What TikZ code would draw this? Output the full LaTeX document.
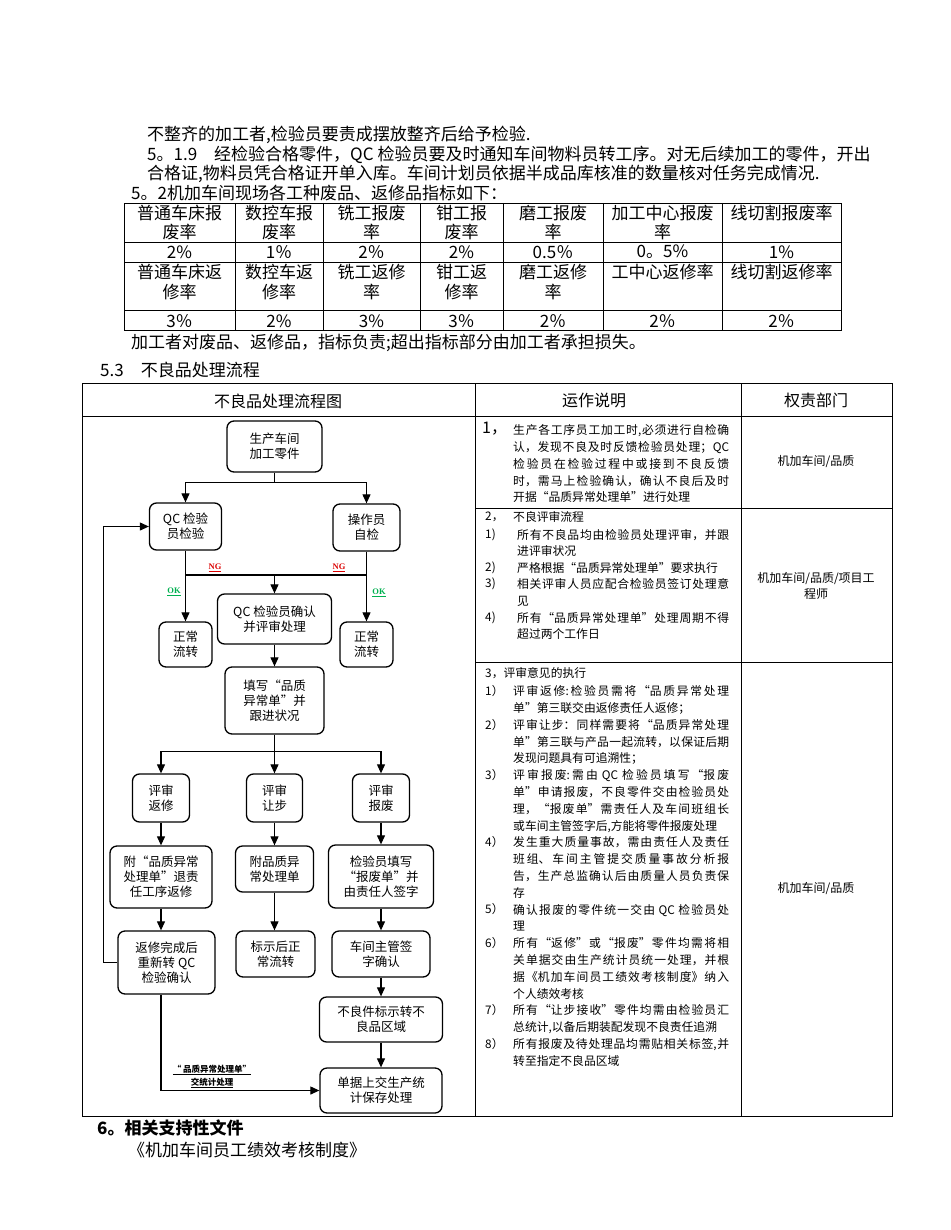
\documentclass[tikz,border=0pt]{standalone}
\usepackage{fontspec}
\setmainfont{Noto Sans CJK SC}
\newfontfamily\latinserif{Liberation Serif}
\usetikzlibrary{arrows.meta}
\XeTeXlinebreaklocale "zh"
\XeTeXlinebreakskip=0pt plus 2pt
\definecolor{okgreen}{RGB}{0,176,80}
\definecolor{ngred}{RGB}{220,0,0}
\begin{document}
\begin{tikzpicture}[x=1pt,y=-1pt,
  box/.style={draw, line width=1.3pt, rounded corners=7pt, align=center, inner sep=0pt, font=\fontsize{12.5}{15}\selectfont},
  arr/.style={line width=1.1pt, -{Triangle[length=9pt,width=8pt]}},
  ln/.style={line width=1.1pt},
  tl/.style={line width=0.8pt},
  body/.style={anchor=west, inner sep=0pt, font=\fontsize{17}{20}\selectfont},
  cell/.style={inner sep=0pt, font=\fontsize{17}{20}\selectfont},
  hdr/.style={inner sep=0pt, font=\fontsize{16}{18}\selectfont},
  num/.style={anchor=west, inner sep=0pt, font=\fontsize{11.8}{14}\selectfont},
  para/.style={anchor=base west, inner sep=0pt},
  dept/.style={inner sep=0pt, align=center, font=\fontsize{12}{16}\selectfont},
  oklab/.style={inner sep=0pt, text=okgreen, font=\latinserif\bfseries\fontsize{8.5}{10}\selectfont},
  nglab/.style={inner sep=0pt, text=ngred, font=\latinserif\bfseries\fontsize{8.5}{10}\selectfont}
]
\useasboundingbox[fill=white] (0,0) rectangle (950,1230);

% ---------- top text ----------
\node[body] (t1) at (147,135) {不整齐的加工者,检验员要责成摆放整齐后给予检验.};
\node[body] (t2) at (147,155) {5。1.9\quad 经检验合格零件，QC 检验员要及时通知车间物料员转工序。对无后续加工的零件，开出};
\node[body] (t3) at (147,174) {合格证,物料员凭合格证开单入库。车间计划员依据半成品库核准的数量核对任务完成情况.};
\node[body] (t4) at (131,193) {5。2机加车间现场各工种废品、返修品指标如下：};

% ---------- index table ----------
\draw[tl] (124,203) rectangle (841,330);
\foreach \y in {242,262,310} \draw[tl] (124,\y) -- (841,\y);
\foreach \x in {235,323,420,503,603,722} \draw[tl] (\x,203) -- (\x,330);
\foreach \cx/\a/\b [count=\i] in {179.5/普通车床报/废率, 279/数控车报/废率, 371.5/铣工报废/率, 461.5/钳工报/废率, 553/磨工报废/率, 662.5/加工中心报废/率}{
  \node[cell] (ha\i) at (\cx,213) {\a};
  \node[cell] (hb\i) at (\cx,232) {\b};
}
\node[cell] (ha7) at (781.5,213) {线切割报废率};
\foreach \cx/\v [count=\i] in {179.5/2\%, 279/1％, 371.5/2％, 461.5/2\%, 553/0.5％, 662.5/0。5\%, 781.5/1\%}{
  \node[cell] (va\i) at (\cx,252) {\v};
}
\foreach \cx/\a/\b [count=\i] in {179.5/普通车床返/修率, 279/数控车返/修率, 371.5/铣工返修/率, 461.5/钳工返/修率, 553/磨工返修/率}{
  \node[cell] (hc\i) at (\cx,272) {\a};
  \node[cell] (hd\i) at (\cx,292) {\b};
}
\node[cell] (hc6) at (662.5,272) {工中心返修率};
\node[cell] (hc7) at (781.5,272) {线切割返修率};
\foreach \cx/\v [count=\i] in {179.5/3％, 279/2\%, 371.5/3\%, 461.5/3％, 553/2％, 662.5/2％, 781.5/2％}{
  \node[cell] (vb\i) at (\cx,321) {\v};
}

\node[body] (t5) at (131,343) {加工者对废品、返修品，指标负责;超出指标部分由加工者承担损失。};
\node[body] (t6) at (100,370) {5.3\quad 不良品处理流程};

% ---------- process table ----------
\draw[tl] (82,383) rectangle (892,1116);
\draw[tl] (82,416) -- (892,416);
\draw[tl] (475,383) -- (475,1116);
\draw[tl] (741,383) -- (741,1116);
\draw[tl] (475,508) -- (892,508);
\draw[tl] (475,662) -- (892,662);
\node[hdr] (h1) at (278,401) {不良品处理流程图};
\node[hdr] (h2) at (594,400) {运作说明};
\node[hdr] (h3) at (816,400) {权责部门};

% ---------- flowchart ----------
\node[box, minimum width=95pt, minimum height=51pt] (n1) at (274.5,446.5) {生产车间\\加工零件};
\node[box, minimum width=72pt, minimum height=47pt] (qc) at (185.5,526.5) {QC 检验\\员检验};
\node[box, minimum width=67pt, minimum height=47pt] (op) at (366.5,527.5) {操作员\\自检};
\node[box, minimum width=53pt, minimum height=45pt] (ok1) at (185.5,644.5) {正常\\流转};
\node[box, minimum width=114pt, minimum height=50pt] (rev) at (274.5,619) {QC 检验员确认\\并评审处理};
\node[box, minimum width=53pt, minimum height=45pt] (ok2) at (366.5,644.5) {正常\\流转};
\node[box, minimum width=99pt, minimum height=67pt] (fill) at (274.5,700.5) {填写“品质\\异常单”并\\跟进状况};
\node[box, minimum width=57pt, minimum height=48pt] (r1) at (161,798) {评审\\返修};
\node[box, minimum width=56pt, minimum height=48pt] (r2) at (274.5,798) {评审\\让步};
\node[box, minimum width=57pt, minimum height=48pt] (r3) at (381,798) {评审\\报废};
\node[box, minimum width=102pt, minimum height=62pt] (a1) at (161,877) {附“品质异常\\处理单”退责\\任工序返修};
\node[box, minimum width=78pt, minimum height=46pt] (a2) at (274.5,869) {附品质异\\常处理单};
\node[box, minimum width=105pt, minimum height=63pt] (a3) at (381,876.5) {检验员填写\\“报废单”并\\由责任人签字};
\node[box, minimum width=97pt, minimum height=63pt] (b1) at (166.5,962.5) {返修完成后\\重新转 QC\\检验确认};
\node[box, minimum width=79pt, minimum height=46pt] (b2) at (275.5,954) {标示后正\\常流转};
\node[box, minimum width=98pt, minimum height=46pt] (b3) at (381,954) {车间主管签\\字确认};
\node[box, minimum width=123pt, minimum height=45pt] (c3) at (381,1019.5) {不良件标示转不\\良品区域};
\node[box, minimum width=122pt, minimum height=45pt] (d3) at (381,1090.5) {单据上交生产统\\计保存处理};

\coordinate (j1) at (274.5,482.7);
\draw[ln] (n1.south) -- (j1);
\draw[arr] (j1) -| (qc.north);
\draw[arr] (j1) -| (op.north);
\draw[arr] (qc.south) -- (ok1.north);
\draw[arr] (op.south) -- (ok2.north);
\coordinate (ng) at (274.5,575);
\draw[ln] (qc.south |- ng) -- (op.south |- ng);
\draw[arr] (ng) -- (rev.north);
\draw[arr] (rev.south) -- (fill.north);
\coordinate (j2) at (274.5,751.7);
\draw[ln] (fill.south) -- (j2);
\draw[arr] (j2) -| (r1.north);
\draw[arr] (j2) -- (r2.north);
\draw[arr] (j2) -| (r3.north);
\draw[arr] (r1.south) -- (a1.north);
\draw[arr] (r2.south) -- (a2.north);
\draw[arr] (r3.south) -- (a3.north);
\draw[arr] (a1.south) -- (a1.south |- b1.north);
\draw[arr] (a2.south) -- (a2.south |- b2.north);
\draw[arr] (a3.south) -- (b3.north);
\draw[arr] (b3.south) -- (c3.north);
\draw[arr] (c3.south) -- (d3.north);
\draw[arr] (b1.west) -- ++(-14,0) |- (qc.west);
\draw[arr] (a1.south |- b1.south) |- (d3.west);

\node[nglab] (ngl) at (215,568) {\underline{NG}};
\node[nglab] (ngr) at (339,568) {\underline{NG}};
\node[oklab] (okl) at (174,592) {\underline{OK}};
\node[oklab] (okr) at (379,593) {\underline{OK}};
\node[inner sep=0pt, align=center, font=\bfseries\fontsize{8.5}{13}\selectfont] (stat) at (212,1076.5) {\underline{“ 品质异常处理单”}\\\underline{交统计处理}};

% ---------- operation description ----------
\node[anchor=west, inner sep=0pt, font=\fontsize{16}{18}\selectfont] (s1n) at (482,429) {1，};
\node[para, font=\fontsize{11.8}{16.8}\selectfont] (s1) at (513,434.6) {\parbox[t]{216pt}{生产各工序员工加工时,必须进行自检确\linebreak 认，发现不良及时反馈检验员处理；QC\linebreak 检验员在检验过程中或接到不良反馈\linebreak 时，需马上检验确认，确认不良后及时\linebreak 开据“品质异常处理单"进行处理}};

\node[num] (s2n) at (485,517) {2，};
\node[num] (s2t) at (513,517) {不良评审流程};
\node[num] (s2a) at (485,534.5) {1)};
\node[para, font=\fontsize{11.8}{16.6}\selectfont] (s2at) at (517,539.1) {\parbox[t]{212pt}{所有不良品均由检验员处理评审，并跟\linebreak 进评审状况}};
\node[num] (s2b) at (485,567.7) {2)};
\node[para, font=\fontsize{11.8}{16.6}\selectfont] (s2bt) at (517,572.3) {\parbox[t]{212pt}{严格根据“品质异常处理单”要求执行}};
\node[num] (s2c) at (485,584.3) {3)};
\node[para, font=\fontsize{11.8}{16.6}\selectfont] (s2ct) at (517,588.9) {\parbox[t]{212pt}{相关评审人员应配合检验员签订处理意\linebreak 见}};
\node[num] (s2d) at (485,617.5) {4)};
\node[para, font=\fontsize{11.8}{16.6}\selectfont] (s2dt) at (517,622.1) {\parbox[t]{212pt}{所有“品质异常处理单"处理周期不得\linebreak 超过两个工作日}};

\node[num] (s3n) at (485,673) {3，评审意见的执行};
\node[num] (s3a) at (485,691) {1）};
\node[para, font=\fontsize{11.8}{16.8}\selectfont] (s3at) at (513,695.6) {\parbox[t]{216pt}{评审返修:检验员需将“品质异常处理\linebreak 单”第三联交由返修责任人返修；}};
\node[num] (s3b) at (485,724.6) {2）};
\node[para, font=\fontsize{11.8}{16.8}\selectfont] (s3bt) at (513,729.2) {\parbox[t]{216pt}{评审让步：同样需要将“品质异常处理\linebreak 单"第三联与产品一起流转，以保证后期\linebreak 发现问题具有可追溯性；}};
\node[num] (s3c) at (485,775) {3）};
\node[para, font=\fontsize{11.8}{16.8}\selectfont] (s3ct) at (513,779.6) {\parbox[t]{216pt}{评审报废:需由 QC 检验员填写“报废\linebreak 单”申请报废，不良零件交由检验员处\linebreak 理，“报废单”需责任人及车间班组长\linebreak 或车间主管签字后,方能将零件报废处理}};
\node[num] (s3d) at (485,842.2) {4）};
\node[para, font=\fontsize{11.8}{16.8}\selectfont] (s3dt) at (513,846.8) {\parbox[t]{216pt}{发生重大质量事故，需由责任人及责任\linebreak 班组、车间主管提交质量事故分析报\linebreak 告，生产总监确认后由质量人员负责保\linebreak 存}};
\node[num] (s3e) at (485,909.4) {5）};
\node[para, font=\fontsize{11.8}{16.8}\selectfont] (s3et) at (513,914) {\parbox[t]{216pt}{确认报废的零件统一交由 QC 检验员处\linebreak 理}};
\node[num] (s3f) at (485,943) {6）};
\node[para, font=\fontsize{11.8}{16.8}\selectfont] (s3ft) at (513,947.6) {\parbox[t]{216pt}{所有“返修”或“报废”零件均需将相\linebreak 关单据交由生产统计员统一处理，并根\linebreak 据《机加车间员工绩效考核制度》纳入\linebreak 个人绩效考核}};
\node[num] (s3g) at (485,1010.2) {7）};
\node[para, font=\fontsize{11.8}{16.8}\selectfont] (s3gt) at (513,1014.8) {\parbox[t]{216pt}{所有“让步接收”零件均需由检验员汇\linebreak 总统计,以备后期装配发现不良责任追溯}};
\node[num] (s3h) at (485,1043.8) {8）};
\node[para, font=\fontsize{11.8}{16.8}\selectfont] (s3ht) at (513,1048.4) {\parbox[t]{216pt}{所有报废及待处理品均需贴相关标签,并\linebreak 转至指定不良品区域}};

% ---------- departments ----------
\node[dept] (d1) at (816,462) {机加车间/品质};
\node[dept] (d2) at (816,586) {机加车间/品质/项目工\\程师};
\node[dept] (d4) at (816,888) {机加车间/品质};

% ---------- bottom ----------
\node[body, font=\bfseries\fontsize{17}{20}\selectfont] (t7) at (97,1128) {6。相关支持性文件};
\node[body] (t8) at (128,1150) {《机加车间员工绩效考核制度》};
\end{tikzpicture}
\end{document}
